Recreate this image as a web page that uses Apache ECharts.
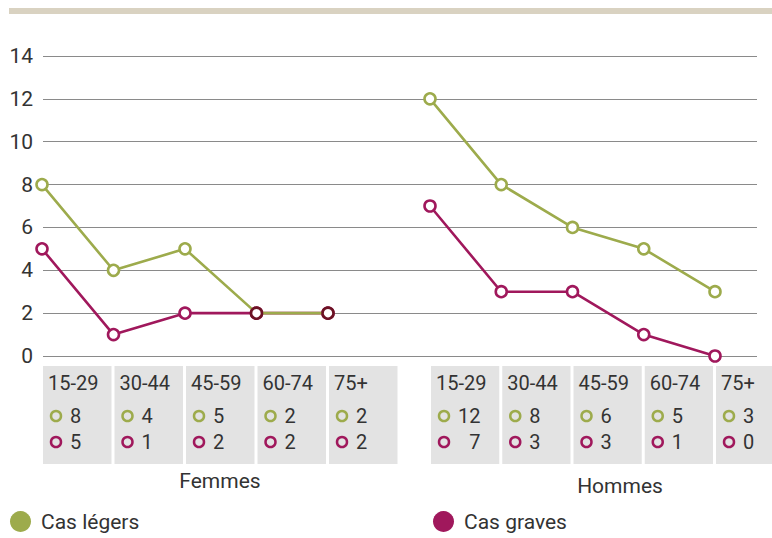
<!DOCTYPE html>
<html><head><meta charset="utf-8">
<script src="https://cdn.jsdelivr.net/npm/echarts@6/dist/echarts.min.js"></script>
<style>html,body{margin:0;padding:0;background:#fff}#c{width:772px;height:538px}</style>
</head><body><div id="c"></div>
<script>
// ---- data ----
const ageGroups = ['15-29', '30-44', '45-59', '60-74', '75+'];
const femmesLegers = [8, 4, 5, 2, 2];
const femmesGraves = [5, 1, 2, 2, 2];
const hommesLegers = [12, 8, 6, 5, 3];
const hommesGraves = [7, 3, 3, 1, 0];
const groupNames = ['Femmes', 'Hommes'];
const seriesNames = ['Cas légers', 'Cas graves'];
const yMin = 0, yMax = 14, yStep = 2;

// ---- styles ----
const GREEN = '#9dab4c', MAGENTA = '#a0185c', DARK = '#6c1224';
const TXT = '#333333', FONT = 'Roboto', FW = 'normal';
const chart = echarts.init(document.getElementById('c'), null, {renderer: 'svg'});

function lineSeries(name, data, color, xi, other, z) {
  return {
    type: 'line', name, xAxisIndex: xi, yAxisIndex: xi, z,
    data: data.map((v, i) => (other && other[i] === v) ? {value: v, itemStyle: {borderColor: DARK}} : v),
    symbol: 'circle', symbolSize: 11, showSymbol: true,
    lineStyle: {color, width: 2.6},
    itemStyle: {color: '#fff', borderColor: color, borderWidth: 2.6},
    emphasis: {disabled: true}, animation: false
  };
}
const hiddenCat = gi => ({type: 'category', gridIndex: gi, data: ageGroups, boundaryGap: false, show: false});
const hiddenY = gi => ({type: 'value', gridIndex: gi, min: yMin, max: yMax, interval: yStep, show: false});
const legendAt = (left, name, color) => ({
  left, top: 511, padding: 0, icon: 'circle', itemWidth: 21, itemHeight: 21, selectedMode: false,
  textStyle: {fontSize: 21, fontFamily: FONT, fontWeight: FW, color: TXT, padding: [0, 0, 0, 5]},
  data: [{name, itemStyle: {color, borderWidth: 0}}]
});

chart.setOption({
  animation: false,
  grid: [
    {left: 43, right: 15, top: 56, height: 300},
    {left: 42, width: 286, top: 56, height: 300},
    {left: 430, width: 285, top: 56, height: 300}
  ],
  xAxis: [{type: 'value', gridIndex: 0, min: 0, max: 1, show: false}, hiddenCat(1), hiddenCat(2)],
  yAxis: [
    {type: 'value', gridIndex: 0, min: yMin, max: yMax, interval: yStep,
     axisLine: {show: false}, axisTick: {show: false},
     splitLine: {lineStyle: {color: '#8a8a8a', width: 1}},
     axisLabel: {color: TXT, fontSize: 21, fontFamily: FONT, fontWeight: FW, margin: 10,
                 verticalAlign: 'middle', padding: [0, 0, 7, 0]}},
    hiddenY(1), hiddenY(2)
  ],
  legend: [legendAt(10, seriesNames[0], GREEN), legendAt(433, seriesNames[1], MAGENTA)],
  series: [
    lineSeries(seriesNames[1], femmesGraves, MAGENTA, 1, null, 2),
    lineSeries(seriesNames[0], femmesLegers, GREEN, 1, femmesGraves, 3),
    lineSeries(seriesNames[1], hommesGraves, MAGENTA, 2, null, 2),
    lineSeries(seriesNames[0], hommesLegers, GREEN, 2, hommesGraves, 3)
  ]
});

// ---- table below the chart, positioned from the axes ----
const elements = [];
elements.push({type: 'rect', shape: {x: 9, y: 8, width: 763, height: 6}, style: {fill: '#d9d2c1'}});
const groups = [
  {axis: 1, legers: femmesLegers, graves: femmesGraves, label: groupNames[0], lx: 220, ly: 481},
  {axis: 2, legers: hommesLegers, graves: hommesGraves, label: groupNames[1], lx: 620, ly: 486}
];
const font = (s, x, y, align) => ({type: 'text', x, y,
  style: {text: s, fontSize: 20, fontFamily: FONT, fontWeight: FW, fill: TXT,
          textAlign: align || 'left', textVerticalAlign: 'middle'}});
groups.forEach(g => {
  const xs = ageGroups.map((c, i) => chart.convertToPixel({xAxisIndex: g.axis}, i));
  const step = xs[1] - xs[0];
  const wide = Math.max(...g.legers.concat(g.graves).map(v => String(v).length));
  ageGroups.forEach((c, i) => {
    const cx = xs[i] + 1;
    elements.push({type: 'rect', shape: {x: cx, y: 366, width: step - 3, height: 98}, style: {fill: '#e3e3e3'}});
    elements.push(font(c, cx + 5, 383));
    [[g.legers[i], GREEN, 416], [g.graves[i], MAGENTA, 442]].forEach(([v, col, yy]) => {
      elements.push({type: 'circle', shape: {cx: cx + 13, cy: yy, r: 5}, style: {fill: 'none', stroke: col, lineWidth: 2.5}});
      elements.push(font(String(v).padStart(i === 0 ? wide : 1, '\u2007'), cx + 27, yy));
    });
  });
  const t = font(g.label, g.lx, g.ly, 'center');
  t.style.fontSize = 21;
  elements.push(t);
});
chart.setOption({graphic: {elements}});
</script></body></html>
